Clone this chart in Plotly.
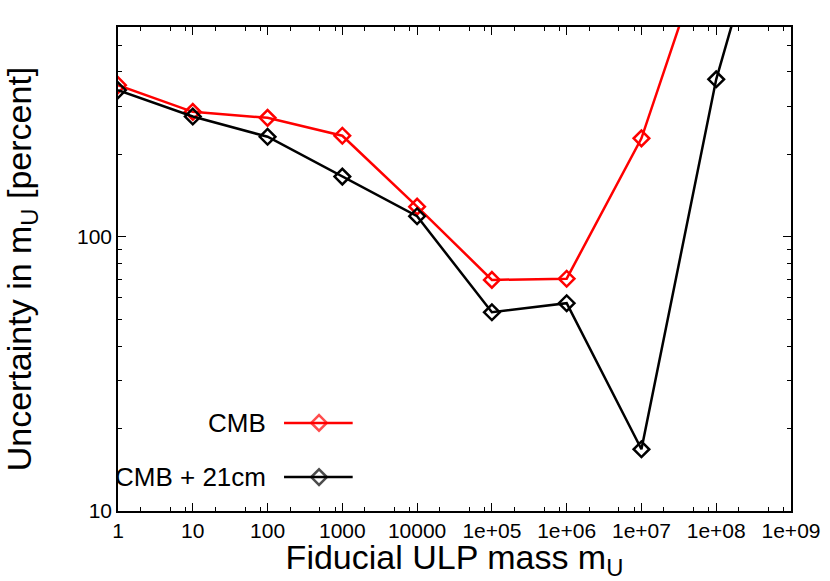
import plotly.graph_objs as go

# fiducial ULP masses and uncertainty on m_U (percent)
masses = [1, 10, 100, 1000, 1e4, 1e5, 1e6, 1e7, 1e8, 1e9]
cmb = [358, 286, 272, 234, 129, 69.7, 70.4, 229, 1480]
cmb_21cm = [343, 275, 232, 166, 119, 53.1, 57.3, 16.8, 376, 3350]

x_ticks = [1, 10, 100, 1000, 1e4, 1e5, 1e6, 1e7, 1e8, 1e9]
x_labels = ['1', '10', '100', '1000', '10000', '1e+05', '1e+06', '1e+07', '1e+08', '1e+09']
y_ticks = [10, 100]
y_labels = ['10', '100']

series_names = ['CMB', 'CMB + 21cm']
series_colors = ['#ff0000', '#000000']

font = 'Liberation Sans, Arial, sans-serif'

x_minor = [m * k for m in x_ticks[:-1] for k in (2, 5, 8)]
y_minor = [m * k for m in (10, 100) for k in range(2, 10)]

marker = dict(symbol='diamond-open', size=12, line=dict(width=2.5))

trace = go.Scatter(
    x=masses[:len(cmb)], y=cmb, mode='lines+markers', name=series_names[0],
    line=dict(color=series_colors[0], width=2.5),
    marker=dict(marker, color=series_colors[0]),
)
trace2 = go.Scatter(
    x=masses, y=cmb_21cm, mode='lines+markers', name=series_names[1],
    line=dict(color=series_colors[1], width=2.5),
    marker=dict(marker, color=series_colors[1]),
)

# gnuplot style key: text on the left, sample on the right
key_y = [0.182, 0.070]
key_traces = []
annotations = []
for name, color, ky in zip(series_names, series_colors, key_y):
    key_traces.append(go.Scatter(
        x=[0.2467, 0.2987, 0.3487], y=[ky, ky, ky], xaxis='x2', yaxis='y2',
        mode='lines+markers', showlegend=False, hoverinfo='skip',
        line=dict(color=color, width=2.5),
        marker=dict(marker, color=color, size=[0, 12, 0]),
    ))
    annotations.append(dict(
        x=0.2229, y=ky, xref='paper', yref='paper', xanchor='right', yanchor='middle',
        text=name, showarrow=False, font=dict(family=font, size=26, color='black'),
    ))

axis_common = dict(
    type='log', showgrid=False, zeroline=False, showline=True, linecolor='black',
    linewidth=1.5, mirror='ticks', ticks='inside', ticklen=8, tickwidth=1.2,
    tickcolor='black', tickmode='array', automargin=False,
    tickfont=dict(family=font, size=21, color='black'),
)

layout = go.Layout(
    width=830, height=581,
    margin=dict(l=118, r=39, t=27, b=70),
    paper_bgcolor='white', plot_bgcolor='white',
    showlegend=False,
    font=dict(family=font, color='black'),
    xaxis=dict(
        axis_common, range=[0, 9], tickvals=x_ticks, ticktext=x_labels,
        minor=dict(tickvals=x_minor, ticks='inside', ticklen=4, tickcolor='black', tickwidth=1.2),
        title=dict(text='Fiducial ULP mass m<sub>U</sub>', font=dict(family=font, size=34), standoff=16),
    ),
    yaxis=dict(
        axis_common, range=[1, 2.766], tickvals=y_ticks, ticktext=y_labels,
        minor=dict(tickvals=y_minor, ticks='inside', ticklen=4, tickcolor='black', tickwidth=1.2),
        title=dict(text='Uncertainty in m<sub>U</sub> [percent]', font=dict(family=font, size=34), standoff=50),
    ),
    xaxis2=dict(overlaying='x', range=[0, 1], visible=False, fixedrange=True),
    yaxis2=dict(overlaying='y', range=[0, 1], visible=False, fixedrange=True),
    annotations=annotations,
)

fig = go.Figure(data=[trace, trace2] + key_traces, layout=layout)
# drop the default page margin so the figure sits at the top-left corner
fig.write_html('out.html', config={'displayModeBar': False},
               post_script="document.body.style.margin = '0';")
